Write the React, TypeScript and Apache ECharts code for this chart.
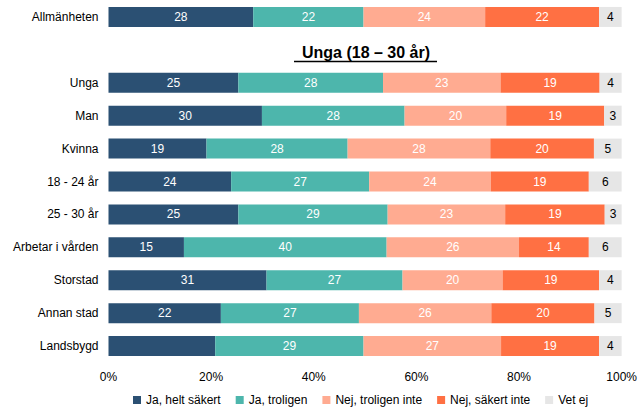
import React, { useEffect, useRef } from "react";
import * as echarts from "echarts";

const categories = [
  "Allmänheten",
  "",
  "Unga",
  "Man",
  "Kvinna",
  "18 - 24 år",
  "25 - 30 år",
  "Arbetar i vården",
  "Storstad",
  "Annan stad",
  "Landsbygd",
];

const seriesNames = ["Ja, helt säkert", "Ja, troligen", "Nej, troligen inte", "Nej, säkert inte", "Vet ej"];

// shares in percent
const jaHeltSakert = [28.2, null, 25.3, 29.9, 19.1, 23.9, 25.3, 14.7, 30.8, 21.9, 20.8];
const jaTroligen = [21.5, null, 28.2, 27.8, 27.5, 26.9, 29.1, 39.5, 26.5, 26.9, 28.9];
const nejTroligenInte = [23.7, null, 22.9, 19.8, 27.8, 23.7, 22.9, 25.8, 19.5, 25.8, 26.8];
const nejSakertInte = [22.2, null, 19.3, 19.1, 20.2, 19.1, 19.4, 13.6, 18.8, 20.1, 19.1];
const vetEj = [4.4, null, 4.3, 3.4, 5.4, 6.4, 3.3, 6.4, 4.4, 5.3, 4.4];

const xTicks = [0, 20, 40, 60, 80, 100];
const groupTitle = "Unga (18 – 30 år)";
// segments drawn without a value label in the original
const unlabeled: Record<string, string[]> = { "Ja, helt säkert": ["Landsbygd"] };

const colors = ["#2B5073", "#4DB6AC", "#FFAB91", "#FF7043", "#E6E6E6"];
const FONT = "'Liberation Sans', Arial, sans-serif";

export default function App() {
  const ref = useRef<HTMLDivElement>(null);
  useEffect(() => {
    if (!ref.current) return;
    const chart = echarts.init(ref.current, null, { renderer: "svg" });
    const allData = [jaHeltSakert, jaTroligen, nejTroligenInte, nejSakertInte, vetEj];
    const series = seriesNames.map((name, si) => ({
      name,
      type: "bar",
      stack: "total",
      barWidth: 20,
      itemStyle: { color: colors[si] },
      label: {
        show: true,
        position: "inside",
        color: si === 4 ? "#000" : "#fff",
        fontSize: 12,
        fontFamily: FONT,
        formatter: (p: any) => (p.value == null ? "" : String(Math.round(p.value))),
      },
      data: allData[si].map((v, i) =>
        (unlabeled[name] || []).includes(categories[i])
          ? { value: v, label: { show: false } }
          : v
      ),
    }));
    chart.setOption({
      animation: false,
      textStyle: { fontFamily: FONT },
      grid: { left: 108.5, right: 14, top: 0.5, height: 362, containLabel: false },
      xAxis: {
        type: "value",
        min: xTicks[0],
        max: xTicks[xTicks.length - 1],
        interval: 20,
        axisLine: { show: false },
        axisTick: { show: false },
        splitLine: { show: false },
        axisLabel: { formatter: "{value}%", color: "#000", fontSize: 12, fontFamily: FONT, margin: 8 },
      },
      yAxis: {
        type: "category",
        inverse: true,
        data: categories,
        axisLine: { show: false },
        axisTick: { show: false },
        splitLine: { show: false },
        axisLabel: { color: "#000", fontSize: 12, fontFamily: FONT, margin: 10 },
      },
      legend: {
        data: seriesNames,
        icon: "rect",
        itemWidth: 8,
        itemHeight: 8,
        itemGap: 15,
        left: 131,
        top: 392,
        padding: [2, 2, 2, 2],
        textStyle: { color: "#000", fontSize: 12, fontFamily: FONT },
      },
      graphic: [
        {
          type: "text",
          x: 366,
          y: 52,
          style: {
            text: groupTitle,
            fontSize: 16,
            fontWeight: "bold",
            fontFamily: FONT,
            fill: "#000",
            align: "center",
            verticalAlign: "middle",
          },
        },
        {
          type: "line",
          shape: { x1: 294, y1: 61.5, x2: 437, y2: 61.5 },
          style: { stroke: "#000", lineWidth: 1.3 },
        },
      ],
      series,
    });
    return () => chart.dispose();
  }, []);
  return <div ref={ref} style={{ position: "absolute", left: 0, top: 0, width: 640, height: 409 }} />;
}
